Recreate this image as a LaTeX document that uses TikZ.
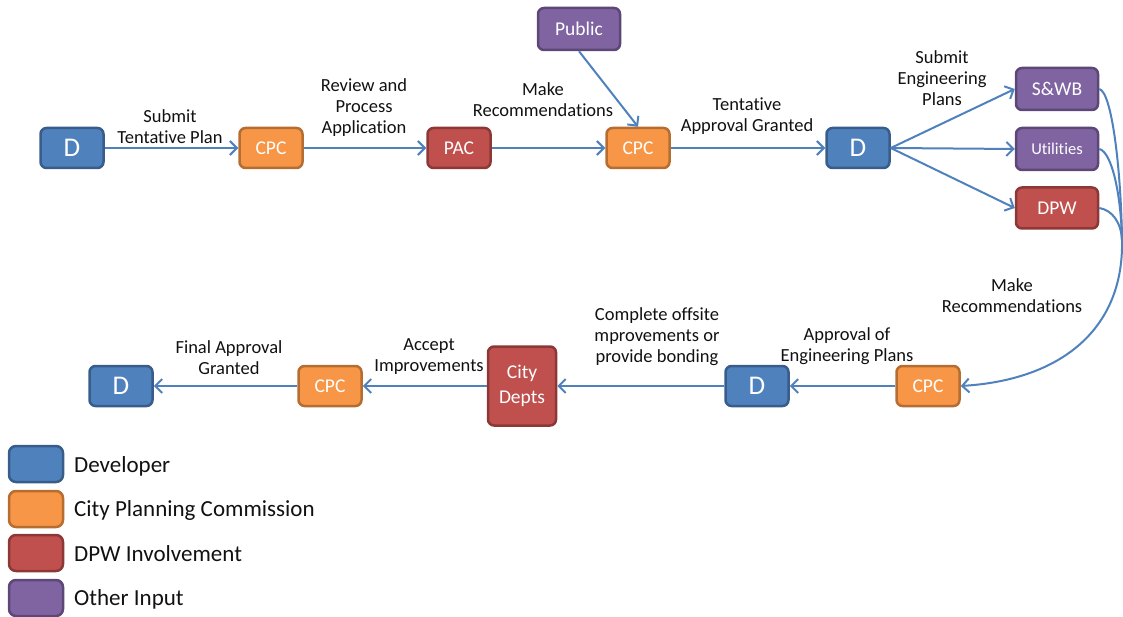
\documentclass[tikz,border=0pt]{standalone}
\usepackage{fontspec}
\setmainfont{Carlito}[Ligatures=NoCommon]
\usetikzlibrary{arrows.meta}

\definecolor{devfill}{HTML}{4F81BD}
\definecolor{devline}{HTML}{385D8A}
\definecolor{cpcfill}{HTML}{F79646}
\definecolor{cpcline}{HTML}{B66D31}
\definecolor{dpwfill}{HTML}{C0504D}
\definecolor{dpwline}{HTML}{8C3836}
\definecolor{othfill}{HTML}{8064A2}
\definecolor{othline}{HTML}{5C4776}
\definecolor{flow}{HTML}{4F81BD}
\definecolor{ink}{HTML}{111111}

\tikzset{
  box/.style={rounded corners=6pt, line width=2.5pt, inner sep=0pt,
    text=white, align=center, minimum height=40pt},
  devbox/.style={box, fill=devfill, draw=devline, minimum width=63pt,
    font=\fontsize{27}{27}\selectfont},
  cpcbox/.style={box, fill=cpcfill, draw=cpcline, minimum width=63pt,
    font=\fontsize{19.5}{19.5}\selectfont},
  dpwbox/.style={box, fill=dpwfill, draw=dpwline, minimum width=63pt,
    font=\fontsize{19.5}{19.5}\selectfont},
  othbox/.style={box, fill=othfill, draw=othline, minimum width=82pt,
    minimum height=42pt, font=\fontsize{19.5}{19.5}\selectfont},
  lbl/.style={align=center, text=ink, inner sep=0pt,
    font=\fontsize{18.5}{21}\selectfont},
  keybox/.style={rounded corners=7pt, line width=2.5pt, minimum width=54pt,
    minimum height=36pt, inner sep=0pt},
  keytext/.style={anchor=west, text=ink, inner sep=0pt,
    font=\fontsize{23}{23}\selectfont},
  flowline/.style={draw=flow, line width=2pt},
  flowarrow/.style={flowline, -{Straight Barb[length=7pt,width=14pt,line width=2pt]}}
}

\begin{document}
\begin{tikzpicture}[x=1pt, y=-1pt]
\useasboundingbox (0,0) rectangle (1123,617);

% upper row
\node[devbox] (d1)   at (72,148)  {D};
\node[cpcbox] (cpc1) at (271,148) {CPC};
\node[dpwbox] (pac)  at (459,148) {PAC};
\node[cpcbox] (cpc2) at (638,148) {CPC};
\node[othbox] (pub)  at (579,29)  {Public};
\node[devbox] (d2)   at (858,148) {D};
\node[othbox] (swb)  at (1057,89)  {S\&WB};
\node[othbox, font=\fontsize{16.5}{16.5}\selectfont] (util) at (1057,149) {Utilities};
\node[dpwbox, minimum width=82pt, minimum height=41pt] (dpw) at (1057,208) {DPW};

% lower row
\node[cpcbox] (cpc3) at (928,386) {CPC};
\node[devbox] (d3)   at (757,386) {D};
\node[dpwbox, minimum width=68pt, minimum height=79pt,
      font=\fontsize{19.5}{25}\selectfont] (city) at (522,386) {City\\Depts};
\node[cpcbox] (cpc4) at (330,386) {CPC};
\node[devbox] (d4)   at (121,386) {D};

% flow connectors
\draw[flowarrow] (d1.east) -- (cpc1.west);
\draw[flowarrow] (cpc1.east) -- (pac.west);
\draw[flowarrow] (pac.east) -- (cpc2.west);
\draw[flowarrow] (pub.south) -- (cpc2.north);
\draw[flowarrow] (cpc2.east) -- (d2.west);
\draw[flowarrow] (d2.east) -- (swb.west);
\draw[flowarrow] (d2.east) -- (util.west);
\draw[flowarrow] (d2.east) -- (dpw.west);

% recommendations returning to the commission
\coordinate (merge) at (1122,240);
\draw[flowline] (swb.east)  .. controls (1112,92)  and (1121,170) .. (merge);
\draw[flowline] (util.east) .. controls (1112,152) and (1121,195) .. (merge);
\draw[flowline] (dpw.east)  .. controls (1112,210) and (1121,222) .. (merge);
\draw[flowarrow] (merge) .. controls (1124,330) and (1060,380) .. (cpc3.east);

\draw[flowarrow] (cpc3.west) -- (d3.east);
\draw[flowarrow] (d3.west) -- (city.east);
\draw[flowarrow] (city.west) -- (cpc4.east);
\draw[flowarrow] (cpc4.west) -- (d4.east);

% step labels
\node[lbl] (l1)  at (170,127) {Submit\\Tentative Plan};
\node[lbl] (l2)  at (364,108) {Review and\\Process\\Application};
\node[lbl] (l3)  at (543,100) {Make\\Recommendations};
\node[lbl] (l4)  at (747,116) {Tentative\\Approval Granted};
\node[lbl] (l5)  at (942,78)  {Submit\\Engineering\\Plans};
\node[lbl] (l6)  at (1012,296) {Make\\Recommendations};
\node[lbl] (l7)  at (847,346) {Approval of\\Engineering Plans};
\node[lbl] (l8)  at (657,337) {Complete offsite\\mprovements or\\provide bonding};
\node[lbl] (l9)  at (429,357) {Accept\\Improvements};
\node[lbl] (l10) at (229,358) {Final Approval\\Granted};

% key
\node[keybox, fill=devfill, draw=devline] (k1) at (36,464) {};
\node[keybox, fill=cpcfill, draw=cpcline] (k2) at (36,509) {};
\node[keybox, fill=dpwfill, draw=dpwline] (k3) at (36,553) {};
\node[keybox, fill=othfill, draw=othline] (k4) at (36,598) {};
\node[keytext] (t1) at (74,466) {Developer};
\node[keytext] (t2) at (74,510) {City Planning Commission};
\node[keytext] (t3) at (74,554) {DPW Involvement};
\node[keytext] (t4) at (74,599) {Other Input};
\end{tikzpicture}
\end{document}
